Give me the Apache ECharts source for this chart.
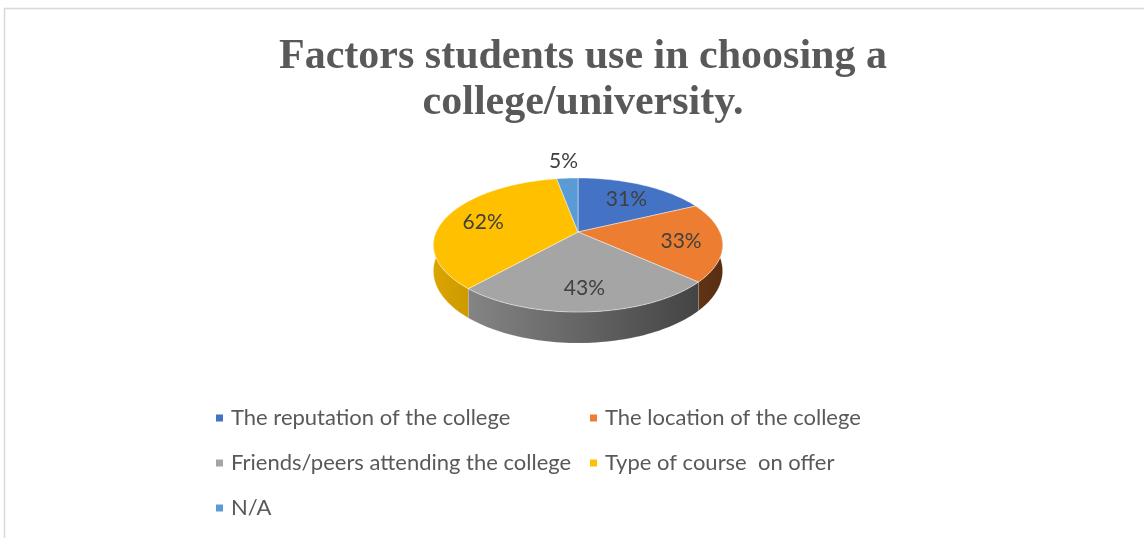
<!DOCTYPE html>
<html>
<head>
<meta charset="utf-8">
<script src="https://cdn.jsdelivr.net/npm/echarts@6/dist/echarts.min.js"></script>
<style>
  html, body { margin: 0; padding: 0; background: #ffffff; }
  #chart { width: 1144px; height: 538px; }
</style>
</head>
<body>
<div id="chart"></div>
<script>
// Survey answers (share of respondents naming each factor)
const categories = [
  'The reputation of the college',
  'The location of the college',
  'Friends/peers attending the college',
  'Type of course  on offer',
  'N/A'
];
const values = [31, 33, 43, 62, 5];
const colors = ['#4472C4', '#ED7D31', '#A5A5A5', '#FFC000', '#5B9BD5'];

// Tilted pie geometry: a perspective view of a flat disc with a rim
const PIE = { cx: 578, cy: 232, A: 141.8, B: 64.5, e: 0.194, depth: 25 };
const FONT = 'Lato, "Open Sans", sans-serif';

function project(thetaDeg, r) {
  const t = thetaDeg * Math.PI / 180;
  const s = Math.sin(t), c = Math.cos(t);
  const d = 1 + PIE.e * r * c;
  return [PIE.cx + PIE.A * r * s / d, PIE.cy - PIE.B * r * c / d];
}
function rimDrop(thetaDeg) {
  const c = Math.cos(thetaDeg * Math.PI / 180);
  return PIE.depth / (1 + PIE.e * c);
}
function shade(hex, f) {
  const n = parseInt(hex.slice(1), 16);
  const r = Math.round(((n >> 16) & 255) * f);
  const g = Math.round(((n >> 8) & 255) * f);
  const b = Math.round((n & 255) * f);
  return 'rgb(' + r + ',' + g + ',' + b + ')';
}
function arc(a0, a1) {
  const steps = Math.max(2, Math.ceil((a1 - a0) / 1.5));
  const pts = [];
  for (let k = 0; k <= steps; k++) pts.push(a0 + (a1 - a0) * k / steps);
  return pts;
}

const total = values.reduce((s, v) => s + v, 0);
const halfW = PIE.A / Math.sqrt(1 - PIE.e * PIE.e);

function renderSlice(color) {
  return function (params, api) {
    const v = api.value(0);
    const before = api.value(1);
    const a0 = before / total * 360;
    const a1 = (before + v) / total * 360;
    const children = [];

    // front rim, only the part facing the viewer
    const s0 = Math.max(a0, 90), s1 = Math.min(a1, 270);
    if (s1 > s0) {
      const angs = arc(s0, s1);
      const upper = angs.map(a => project(a, 1));
      const lower = angs.slice().reverse().map(a => {
        const p = project(a, 1);
        return [p[0], p[1] + rimDrop(a)];
      });
      children.push({
        type: 'polygon',
        z2: 1,
        shape: { points: upper.concat(lower) },
        style: {
          fill: new echarts.graphic.LinearGradient(PIE.cx - halfW, 0, PIE.cx + halfW, 0, [
            { offset: 0, color: shade(color, 0.86) },
            { offset: 1, color: shade(color, 0.37) }
          ], true),
          stroke: 'rgba(255,255,255,0.25)',
          lineWidth: 0.5
        }
      });
    }

    // top face
    const topPts = [project(0, 0)].concat(arc(a0, a1).map(a => project(a, 1)));
    children.push({
      type: 'polygon',
      z2: 5,
      shape: { points: topPts },
      style: { fill: color, stroke: 'rgba(255,255,255,0.55)', lineWidth: 0.8 }
    });

    // value label
    const mid = (a0 + a1) / 2;
    const inside = v / total > 0.08;
    const lp = project(mid, inside ? 0.72 : 1.45);
    children.push({
      type: 'text',
      z2: 10,
      style: {
        text: v + '%',
        x: lp[0],
        y: lp[1] + 2,
        fill: '#404040',
        fontSize: 21,
        fontFamily: FONT,
        align: 'center',
        verticalAlign: 'middle'
      }
    });
    return { type: 'group', children: children };
  };
}

let running = 0;
const series = categories.map((name, i) => {
  const item = [values[i], running];
  running += values[i];
  return {
    type: 'custom',
    name: name,
    coordinateSystem: 'none',
    itemStyle: { color: colors[i] },
    data: [item],
    renderItem: renderSlice(colors[i]),
    silent: true,
    animation: false
  };
});

const legendBase = {
  orient: 'vertical',
  top: 405,
  padding: 0,
  icon: 'rect',
  itemWidth: 7,
  itemHeight: 7,
  itemGap: 19,
  selectedMode: false,
  textStyle: { fontSize: 22, lineHeight: 26, color: '#595959', fontFamily: FONT, padding: [0, 0, 0, 3] }
};

const chart = echarts.init(document.getElementById('chart'), null, { renderer: 'canvas' });
chart.setOption({
  backgroundColor: '#ffffff',
  animation: false,
  title: {
    text: 'Factors students use in choosing a\ncollege/university.',
    left: 578,
    textAlign: 'center',
    top: 29,
    textStyle: {
      fontFamily: '"Liberation Serif", "Times New Roman", serif',
      fontWeight: 'bold',
      fontSize: 42,
      lineHeight: 46,
      color: '#595959'
    }
  },
  legend: [
    Object.assign({}, legendBase, { left: 216, data: [categories[0], categories[2], categories[4]] }),
    Object.assign({}, legendBase, { left: 590, data: [categories[1], categories[3]] })
  ],
  graphic: [{
    type: 'rect',
    silent: true,
    shape: { x: 4.5, y: 8.5, width: 1200, height: 600 },
    style: { fill: 'none', stroke: '#d9d9d9', lineWidth: 1.5 }
  }],
  series: series
});
</script>
</body>
</html>
